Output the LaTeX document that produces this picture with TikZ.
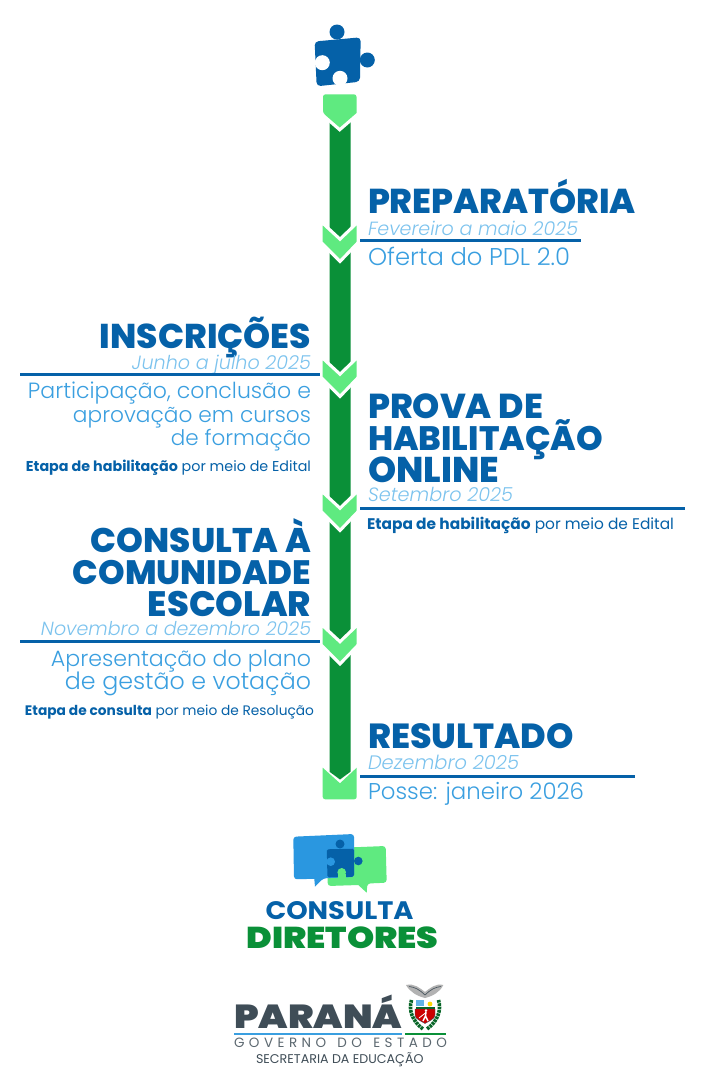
\documentclass[tikz,border=0pt]{standalone}
\usepackage{fontspec}
\usepackage{graphicx}
\setmainfont{Poppins}
\newfontfamily\hvfont{Poppins ExtraBold}
\newfontfamily\blkfont{Poppins Black}
\newfontfamily\ltfont{Poppins Light}[ItalicFont={Poppins Light Italic}]
\definecolor{bluedk}{HTML}{0561A8}
\definecolor{bluemd}{HTML}{3A9FE0}
\definecolor{bluelt}{HTML}{7CC3EE}
\definecolor{bubble}{HTML}{2A97E0}
\definecolor{greendk}{HTML}{0A9038}
\definecolor{greenlt}{HTML}{5FEA80}
\definecolor{slate}{HTML}{3F4D57}
\newcommand\W[2]{\resizebox{#1pt}{!}{#2}}
\tikzset{
  txt/.style={inner sep=0pt,outer sep=0pt},
  head/.style={txt,text=bluedk,font=\hvfont},
  datel/.style={txt,text=bluelt,font=\ltfont\itshape},
  desc/.style={txt,text=bluemd,font=\ltfont},
  note/.style={txt,text=bluedk,font=\rmfamily},
  rulel/.style={draw=bluedk,line width=3pt},
}
\newcommand\chevron[1]{%
  \path[draw=white,line width=6.5pt,miter limit=10,fill=white] (322.7,#1-33.5)--(340,#1-17.5)--(356.7,#1-33.5)--(356.7,#1-17.5)--(340,#1)--(322.7,#1-17.5)--cycle;
  \path[fill=greenlt] (322.7,#1-33.5)--(340,#1-17.5)--(356.7,#1-33.5)--(356.7,#1-17.5)--(340,#1)--(322.7,#1-17.5)--cycle;
}
\begin{document}
\begin{tikzpicture}[x=1pt,y=-1pt]
\useasboundingbox (0,0) rectangle (705,1077);
\fill[white] (0,0) rectangle (705,1077);

% timeline bar
\fill[greendk] (329.5,120) -- (350.5,120) -- (350.5,771.7) -- (340,779.5) -- (329.5,771.7) -- cycle;
% top marker
\path[draw=white,line width=6.5pt,fill=white] (323,113)--(339.7,127.5)--(356.5,113)--cycle;
\fill[greenlt,rounded corners=2.5pt] (323,113)[sharp corners]--(339.7,127.5)--(356.5,113)[rounded corners=2.5pt]--(356.5,94.3)--(323,94.3)--cycle;
\chevron{259}
\chevron{394}
\chevron{528}
\chevron{661.5}
% end marker
\fill[greenlt] (340,783.3)--(322.7,767.7)[rounded corners=2.5pt]--(322.7,799.3)--(356.7,799.3)[sharp corners]--(356.7,767.7)--cycle;

% puzzle
\fill[bluedk] (337,32) circle (7.5) (367.3,60) circle (7.5);
\fill[bluedk] (360.7,37.3) -- (360,76) [rounded corners=4pt] -- (360,81.7) -- (316.7,86.3) [sharp corners] -- (315,50) [rounded corners=4pt] -- (314.5,41.5) -- cycle;
\fill[white] (322.3,62.7) circle (7.5) (340,78.3) circle (7.5);
\fill[white] (312,55) rectangle (314.6,70);
\fill[white] (332,84.5) rectangle (348,90);

% texts
\node[head,anchor=base west] (h1) at (368,213) {\W{268}{PREPARATÓRIA}};
\node[datel,anchor=base west] (d1) at (368,235) {\W{210}{Fevereiro a maio 2025}};
\draw[rulel] (360,240) -- (581,240);
\node[desc,anchor=base west] (t1) at (368,265) {\W{202}{Oferta do PDL 2.0}};

\node[head,anchor=base east] (h2) at (311,348) {\W{211}{INSCRIÇÕES}};
\node[datel,anchor=base east] (d2) at (311,369) {\W{179}{Junho a julho 2025}};
\draw[rulel] (20,374.5) -- (320,374.5);
\node[desc,anchor=base east] (t2a) at (311,398) {\W{283}{Participação, conclusão e}};
\node[desc,anchor=base east] (t2b) at (311,422) {\W{238}{aprovação em cursos}};
\node[desc,anchor=base east] (t2c) at (311,445) {\W{140}{de formação}};
\node[note,anchor=base east] (n2) at (311,471) {\W{285}{\textbf{Etapa de habilitação} por meio de Edital}};

\node[head,anchor=base west] (h3a) at (368,418) {\W{175}{PROVA DE}};
\node[head,anchor=base west] (h3b) at (368,450) {\W{235}{HABILITAÇÃO}};
\node[head,anchor=base west] (h3c) at (368,482) {\W{131}{ONLINE}};
\node[datel,anchor=base west] (d3) at (368,501) {\W{145}{Setembro 2025}};
\draw[rulel] (360,508) -- (685,508);
\node[note,anchor=base west] (n3) at (367,529) {\W{307}{\textbf{Etapa de habilitação} por meio de Edital}};

\node[head,anchor=base east] (h4a) at (311,552) {\W{220}{CONSULTA À}};
\node[head,anchor=base east] (h4b) at (311,584) {\W{238}{COMUNIDADE}};
\node[head,anchor=base east] (h4c) at (311,616) {\W{163}{ESCOLAR}};
\node[datel,anchor=base east] (d4) at (311,635) {\W{270}{Novembro a dezembro 2025}};
\draw[rulel] (20,641.5) -- (320,641.5);
\node[desc,anchor=base east] (t4a) at (311,666) {\W{260}{Apresentação do plano}};
\node[desc,anchor=base east] (t4b) at (311,689) {\W{246}{de gestão e votação}};
\node[note,anchor=base east] (n4) at (314,715) {\W{289}{\textbf{Etapa de consulta} por meio de Resolução}};

\node[head,anchor=base west] (h5) at (368,748) {\W{206}{RESULTADO}};
\node[datel,anchor=base west] (d5) at (368,769) {\W{151}{Dezembro 2025}};
\draw[rulel] (360,776) -- (635,776);
\node[desc,anchor=base west] (t5) at (368,799) {\W{216}{Posse: janeiro 2026}};

% consulta diretores logo
\fill[greenlt,rounded corners=3pt] (327.7,848.3) -- (385.7,846) -- (386.7,882.7) -- (367.3,883.5) [sharp corners] -- (366.7,892.7) -- (358.3,885) [rounded corners=3pt] -- (327.7,886) -- cycle;
\fill[bubble,rounded corners=3pt] (293.3,836.7) -- (354,834) -- (354,877) -- (323.3,878.3) [sharp corners] -- (315,886.7) -- (314.3,878.8) [rounded corners=3pt] -- (294,879.3) -- cycle;
\fill[bluedk] (340,844) circle (4.5) (358.3,861) circle (4.3);
\fill[bluedk,rounded corners=1.5pt] (326.7,849.3) -- (354,848.7) -- (354,876.7) -- (327.5,877.3) -- cycle;
\fill[bubble] (330.7,861.7) circle (4.3);
\fill[bubble] (325,858) rectangle (327.4,865.5);
\fill[greenlt] (341.7,872.3) circle (4.3);
\fill[greenlt] (337.6,874) rectangle (345.8,878);
\node[txt,anchor=base,text=bluedk,font=\bfseries] (c1) at (339.5,919.3) {\resizebox{148pt}{18pt}{CONSULTA}};
\node[txt,anchor=base,text=greendk,font=\blkfont] (c2) at (342.5,948.3) {\resizebox{192pt}{21.7pt}{DIRETORES}};

% parana logo
\node[txt,anchor=base west,text=slate,font=\blkfont] (p1) at (234,1028.3) {\resizebox{168pt}{33.5pt}{PARANÁ}};
\fill[bluemd] (234,1033) rectangle (402,1035.2);
\fill[greendk] (405,1033) rectangle (446,1035.2);
\node[txt,anchor=base west,text=slate!85,font=\rmfamily] (p2) at (234,1047.3) {\W{213}{G\,\,O\,\,V\,\,E\,\,R\,\,N\,\,O\,\,\,\,\,D\,\,O\,\,\,\,\,E\,\,S\,\,T\,\,A\,\,D\,\,O}};
\node[txt,anchor=base west,text=slate,font=\rmfamily] (p3) at (256,1063) {\W{167.5}{SECRETARIA DA EDUCAÇÃO}};

% coat of arms
\fill[gray!60] (406,985) .. controls (414,983) and (420,988) .. (425,992) .. controls (430,988) and (436,983) .. (443.3,985) .. controls (440,992) and (433,996) .. (425,998) .. controls (417,996) and (410,992) .. (406,985) -- cycle;
\draw[slate,line width=.6pt] (409,986.5) .. controls (415,987) and (420,990) .. (425,995) .. controls (430,990) and (435,987) .. (441,986.5);
\draw[greendk!70!black,line width=3.6pt,dash pattern=on 2.6pt off 0.8pt] (411.5,1000) .. controls (408.5,1010) and (412,1021) .. (423,1029);
\draw[greendk!70!black,line width=3.6pt,dash pattern=on 2.6pt off 0.8pt] (438.5,1000) .. controls (441.5,1010) and (438,1021) .. (427,1029);
\fill[white] (415,999.3) rectangle (435,1009.5);
\fill[bluemd!80] (415.5,1000) rectangle (424,1006);
\fill[yellow!75!orange] (430,1004) circle (2.4);
\fill[greendk!70!black] (415.5,1006.5) rectangle (434.5,1009);
\fill[red!80!black,draw=slate,line width=.4pt] (415,1009) -- (435,1009) -- (435,1015) .. controls (435,1019) and (429,1021) .. (425,1023.5) .. controls (421,1021) and (415,1019) .. (415,1015) -- cycle;
\fill[white] (426,1010.5) circle (1.3);
\draw[white,line width=1.5pt] (426,1011.5) -- (425.5,1016) (425.5,1016) -- (423,1021) (425.5,1016) -- (428,1021);
\draw[white,line width=.8pt] (426,1012.5) -- (419,1018);
\end{tikzpicture}
\end{document}
